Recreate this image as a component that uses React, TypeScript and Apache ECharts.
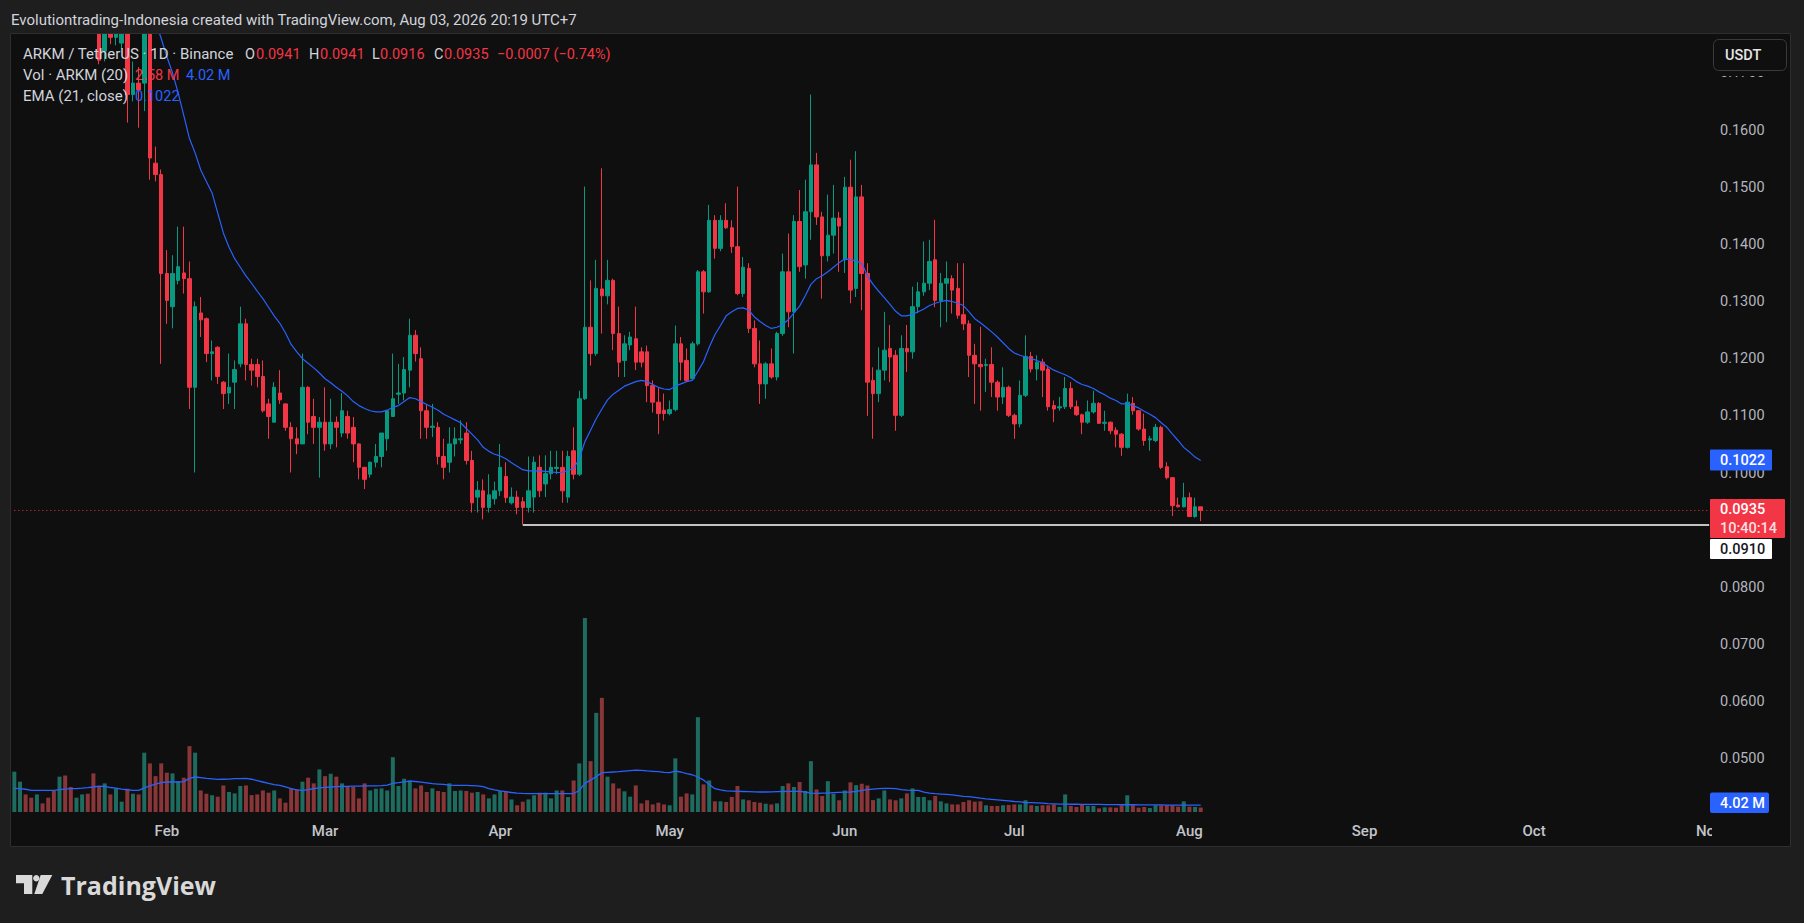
import React, { useEffect, useRef } from "react";
import * as echarts from "echarts";

// ---------- axis: one category per day, Jan 5 2026 .. Nov 1 2026 ----------
const START_UTC = Date.UTC(2026, 0, 5);
const TOTAL_DAYS = 301;
const MONTHS = ["Jan", "Feb", "Mar", "Apr", "May", "Jun", "Jul", "Aug", "Sep", "Oct", "Nov", "Dec"];
const categories: string[] = Array.from({ length: TOTAL_DAYS }, (_, k) =>
  new Date(START_UTC + k * 86400000).toISOString().slice(0, 10)
);

// ---------- price data (ARKM/USDT daily) ----------
const openP = [
  0.205, 0.209, 0.213, 0.206, 0.202, 0.205, 0.201, 0.198, 0.192, 0.200,
  0.193, 0.188, 0.192, 0.196, 0.191, 0.183, 0.1738, 0.1805, 0.1762, 0.1752,
  0.1802, 0.1662, 0.1682, 0.1682, 0.1812, 0.1542, 0.1522, 0.1349, 0.1291, 0.1337,
  0.1350, 0.1340, 0.1150, 0.1280, 0.1270, 0.1209, 0.1220, 0.1159, 0.1140, 0.1159,
  0.1191, 0.1261, 0.1190, 0.1190, 0.1169, 0.1121, 0.1089, 0.1140, 0.1121, 0.1080,
  0.1060, 0.1051, 0.1150, 0.1099, 0.1080, 0.1089, 0.1051, 0.1089, 0.1070, 0.1099,
  0.1080, 0.1051, 0.1010, 0.0998, 0.1019, 0.1029, 0.1060, 0.1099, 0.1138, 0.1140,
  0.1180, 0.1241, 0.1200, 0.1109, 0.1080, 0.1080, 0.1029, 0.1019, 0.1051, 0.1058,
  0.1070, 0.1022, 0.0958, 0.0969, 0.0940, 0.0955, 0.0969, 0.0994, 0.0948, 0.0958,
  0.0950, 0.0940, 0.0958, 0.1010, 0.0981, 0.0999, 0.1008, 0.1010, 0.0958, 0.1039,
  0.0998, 0.1130, 0.1255, 0.1209, 0.1322, 0.1310, 0.1337, 0.1244, 0.1197, 0.1224,
  0.1235, 0.1212, 0.1212, 0.1153, 0.1124, 0.1110, 0.1104, 0.1111, 0.1226, 0.1197,
  0.1165, 0.1226, 0.1352, 0.1317, 0.1442, 0.1393, 0.1442, 0.1429, 0.1396, 0.1314,
  0.1358, 0.1253, 0.1191, 0.1156, 0.1191, 0.1168, 0.1244, 0.1352, 0.1282, 0.1440,
  0.1364, 0.1457, 0.1539, 0.1448, 0.1380, 0.1416, 0.1446, 0.1373, 0.1500, 0.1323,
  0.1483, 0.1349, 0.1162, 0.1139, 0.1180, 0.1218, 0.1206, 0.1101, 0.1218, 0.1212,
  0.1291, 0.1317, 0.1332, 0.1373, 0.1302, 0.1332, 0.1340, 0.1323, 0.1277, 0.1261,
  0.1206, 0.1190, 0.1188, 0.1190, 0.1159, 0.1133, 0.1150, 0.1101, 0.1086, 0.1136,
  0.1204, 0.1182, 0.1194, 0.1182, 0.1118, 0.1114, 0.1116, 0.1148, 0.1116, 0.1102,
  0.1089, 0.1107, 0.1122, 0.1087, 0.1089, 0.1075, 0.1068, 0.1045, 0.1122, 0.1109,
  0.1077, 0.1058, 0.1057, 0.1080, 0.1011, 0.0992, 0.0944, 0.0941, 0.0957, 0.0924,
  0.0941,
];
const highP = [
  0.212, 0.216, 0.215, 0.209, 0.208, 0.207, 0.204, 0.200, 0.203, 0.202,
  0.196, 0.194, 0.198, 0.197, 0.193, 0.186, 0.1830, 0.1840, 0.1815, 0.1835,
  0.1850, 0.1720, 0.1710, 0.1850, 0.1840, 0.1571, 0.1531, 0.1390, 0.1381, 0.1431,
  0.1431, 0.1370, 0.1300, 0.1308, 0.1272, 0.1232, 0.1222, 0.1161, 0.1209, 0.1197,
  0.1291, 0.1270, 0.1200, 0.1200, 0.1197, 0.1130, 0.1159, 0.1180, 0.1122, 0.1089,
  0.1080, 0.1209, 0.1152, 0.1130, 0.1098, 0.1150, 0.1130, 0.1099, 0.1140, 0.1109,
  0.1098, 0.1052, 0.1011, 0.1020, 0.1051, 0.1070, 0.1109, 0.1209, 0.1191, 0.1203,
  0.1270, 0.1250, 0.1220, 0.1121, 0.1121, 0.1089, 0.1060, 0.1080, 0.1080, 0.1092,
  0.1089, 0.1039, 0.0986, 0.0989, 0.0998, 0.0985, 0.1051, 0.1019, 0.0975, 0.0969,
  0.0958, 0.1029, 0.1029, 0.1031, 0.1031, 0.1039, 0.1039, 0.1039, 0.1039, 0.1080,
  0.1144, 0.1501, 0.1337, 0.1373, 0.1533, 0.1373, 0.1340, 0.1291, 0.1241, 0.1247,
  0.1291, 0.1220, 0.1223, 0.1162, 0.1150, 0.1139, 0.1127, 0.1258, 0.1238, 0.1218,
  0.1230, 0.1355, 0.1355, 0.1469, 0.1451, 0.1451, 0.1472, 0.1442, 0.1501, 0.1378,
  0.1367, 0.1267, 0.1232, 0.1194, 0.1218, 0.1247, 0.1384, 0.1419, 0.1451, 0.1495,
  0.1513, 0.1662, 0.1560, 0.1457, 0.1487, 0.1504, 0.1457, 0.1518, 0.1548, 0.1563,
  0.1504, 0.1367, 0.1185, 0.1220, 0.1282, 0.1259, 0.1215, 0.1241, 0.1259, 0.1326,
  0.1334, 0.1405, 0.1408, 0.1443, 0.1350, 0.1370, 0.1346, 0.1367, 0.1367, 0.1267,
  0.1226, 0.1256, 0.1200, 0.1220, 0.1162, 0.1185, 0.1153, 0.1104, 0.1162, 0.1241,
  0.1212, 0.1206, 0.1200, 0.1188, 0.1127, 0.1133, 0.1168, 0.1159, 0.1127, 0.1104,
  0.1127, 0.1144, 0.1124, 0.1109, 0.1090, 0.1080, 0.1070, 0.1139, 0.1133, 0.1110,
  0.1104, 0.1065, 0.1086, 0.1083, 0.1019, 0.0993, 0.0957, 0.0983, 0.0966, 0.0957,
  0.0941,
];
const lowP = [
  0.199, 0.204, 0.203, 0.200, 0.199, 0.200, 0.196, 0.190, 0.190, 0.191,
  0.186, 0.186, 0.190, 0.189, 0.181, 0.1715, 0.1720, 0.1750, 0.1748, 0.1741,
  0.1613, 0.1650, 0.1604, 0.1633, 0.1513, 0.1510, 0.1191, 0.1261, 0.1253, 0.1330,
  0.1314, 0.1112, 0.1001, 0.1238, 0.1194, 0.1162, 0.1156, 0.1112, 0.1121, 0.1112,
  0.1185, 0.1162, 0.1153, 0.1150, 0.1106, 0.1060, 0.1089, 0.1121, 0.1074, 0.1001,
  0.1033, 0.1051, 0.1068, 0.1051, 0.0992, 0.1039, 0.1042, 0.1045, 0.1063, 0.1060,
  0.1019, 0.0989, 0.0972, 0.0992, 0.1010, 0.1010, 0.1039, 0.1098, 0.1121, 0.1127,
  0.1150, 0.1195, 0.1060, 0.1060, 0.1063, 0.1015, 0.0989, 0.1001, 0.1029, 0.1051,
  0.1015, 0.0931, 0.0931, 0.0919, 0.0931, 0.0945, 0.0960, 0.0948, 0.0945, 0.0928,
  0.0910, 0.0931, 0.0931, 0.0958, 0.0958, 0.0989, 0.0998, 0.0948, 0.0948, 0.0989,
  0.0995, 0.1128, 0.1188, 0.1205, 0.1244, 0.1295, 0.1215, 0.1168, 0.1168, 0.1215,
  0.1180, 0.1185, 0.1124, 0.1106, 0.1068, 0.1092, 0.1101, 0.1108, 0.1162, 0.1159,
  0.1162, 0.1223, 0.1279, 0.1315, 0.1375, 0.1388, 0.1427, 0.1385, 0.1311, 0.1308,
  0.1245, 0.1185, 0.1121, 0.1130, 0.1165, 0.1162, 0.1240, 0.1255, 0.1209, 0.1352,
  0.1340, 0.1408, 0.1434, 0.1305, 0.1370, 0.1384, 0.1352, 0.1350, 0.1297, 0.1308,
  0.1285, 0.1100, 0.1060, 0.1124, 0.1162, 0.1159, 0.1074, 0.1098, 0.1177, 0.1200,
  0.1280, 0.1310, 0.1320, 0.1290, 0.1255, 0.1264, 0.1279, 0.1270, 0.1250, 0.1168,
  0.1121, 0.1109, 0.1142, 0.1133, 0.1109, 0.1121, 0.1098, 0.1060, 0.1080, 0.1133,
  0.1176, 0.1162, 0.1133, 0.1109, 0.1089, 0.1109, 0.1112, 0.1112, 0.1100, 0.1068,
  0.1086, 0.1104, 0.1086, 0.1074, 0.1068, 0.1045, 0.1030, 0.1043, 0.1102, 0.1074,
  0.1048, 0.1039, 0.1054, 0.1007, 0.0989, 0.0925, 0.0940, 0.0940, 0.0923, 0.0922,
  0.0916,
];
const closeP = [
  0.209, 0.213, 0.206, 0.202, 0.205, 0.201, 0.198, 0.192, 0.200, 0.193,
  0.188, 0.192, 0.196, 0.191, 0.183, 0.1722, 0.1805, 0.1762, 0.1795, 0.1802,
  0.1662, 0.1682, 0.1670, 0.1812, 0.1551, 0.1522, 0.1349, 0.1302, 0.1349, 0.1361,
  0.1340, 0.1150, 0.1291, 0.1268, 0.1209, 0.1212, 0.1169, 0.1139, 0.1150, 0.1181,
  0.1261, 0.1190, 0.1180, 0.1169, 0.1109, 0.1099, 0.1150, 0.1128, 0.1080, 0.1060,
  0.1051, 0.1150, 0.1089, 0.1080, 0.1089, 0.1051, 0.1089, 0.1080, 0.1109, 0.1070,
  0.1051, 0.1010, 0.0989, 0.1019, 0.1029, 0.1070, 0.1109, 0.1130, 0.1140, 0.1181,
  0.1241, 0.1209, 0.1109, 0.1080, 0.1082, 0.1029, 0.1010, 0.1051, 0.1060, 0.1060,
  0.1022, 0.0948, 0.0970, 0.0940, 0.0962, 0.0969, 0.1010, 0.0957, 0.0958, 0.0940,
  0.0940, 0.0969, 0.1019, 0.0969, 0.0999, 0.1010, 0.1010, 0.0969, 0.1029, 0.0998,
  0.1130, 0.1255, 0.1209, 0.1323, 0.1310, 0.1337, 0.1244, 0.1194, 0.1226, 0.1238,
  0.1194, 0.1194, 0.1153, 0.1124, 0.1104, 0.1104, 0.1111, 0.1226, 0.1194, 0.1162,
  0.1226, 0.1352, 0.1317, 0.1442, 0.1393, 0.1442, 0.1429, 0.1396, 0.1314, 0.1360,
  0.1253, 0.1191, 0.1156, 0.1191, 0.1168, 0.1244, 0.1352, 0.1282, 0.1440, 0.1361,
  0.1457, 0.1539, 0.1448, 0.1380, 0.1416, 0.1446, 0.1432, 0.1500, 0.1320, 0.1483,
  0.1349, 0.1159, 0.1139, 0.1180, 0.1215, 0.1203, 0.1101, 0.1218, 0.1212, 0.1291,
  0.1317, 0.1332, 0.1370, 0.1302, 0.1332, 0.1340, 0.1320, 0.1276, 0.1261, 0.1206,
  0.1191, 0.1186, 0.1190, 0.1159, 0.1133, 0.1150, 0.1101, 0.1086, 0.1136, 0.1204,
  0.1182, 0.1194, 0.1180, 0.1116, 0.1112, 0.1116, 0.1148, 0.1116, 0.1102, 0.1089,
  0.1107, 0.1122, 0.1087, 0.1089, 0.1074, 0.1068, 0.1045, 0.1124, 0.1109, 0.1077,
  0.1057, 0.1060, 0.1080, 0.1010, 0.0992, 0.0943, 0.0941, 0.0957, 0.0924, 0.0941,
  0.0935,
];

// EMA(21, close) as drawn on the picture
const emaLine = [
  0.2010, 0.2006, 0.2003, 0.1999, 0.1996, 0.1992, 0.1988, 0.1982, 0.1978, 0.1973,
  0.1967, 0.1962, 0.1958, 0.1953, 0.1946, 0.1937, 0.1929, 0.1919, 0.1911, 0.1903,
  0.1890, 0.1878, 0.1862, 0.1853, 0.1818, 0.1790, 0.1760, 0.1728, 0.1700, 0.1665,
  0.1625, 0.1585, 0.1560, 0.1530, 0.1510, 0.1490, 0.1455, 0.1420, 0.1395, 0.1375,
  0.1360, 0.1345, 0.1332, 0.1318, 0.1305, 0.1290, 0.1275, 0.1262, 0.1245, 0.1225,
  0.1212, 0.1200, 0.1192, 0.1184, 0.1175, 0.1165, 0.1158, 0.1150, 0.1143, 0.1135,
  0.1125, 0.1118, 0.1113, 0.1109, 0.1107, 0.1107, 0.1110, 0.1115, 0.1118, 0.1125,
  0.1132, 0.1130, 0.1125, 0.1120, 0.1115, 0.1110, 0.1103, 0.1098, 0.1093, 0.1088,
  0.1078, 0.1068, 0.1058, 0.1045, 0.1038, 0.1033, 0.1030, 0.1025, 0.1018, 0.1012,
  0.1006, 0.1004, 0.1004, 0.1004, 0.1003, 0.1002, 0.1001, 0.1001, 0.1005, 0.1008,
  0.1025, 0.1055, 0.1075, 0.1095, 0.1112, 0.1128, 0.1138, 0.1145, 0.1152, 0.1156,
  0.1160, 0.1162, 0.1160, 0.1155, 0.1150, 0.1147, 0.1146, 0.1152, 0.1156, 0.1160,
  0.1162, 0.1178, 0.1195, 0.1220, 0.1242, 0.1258, 0.1275, 0.1282, 0.1288, 0.1289,
  0.1285, 0.1273, 0.1265, 0.1258, 0.1253, 0.1255, 0.1260, 0.1268, 0.1280, 0.1292,
  0.1310, 0.1330, 0.1340, 0.1345, 0.1352, 0.1360, 0.1368, 0.1375, 0.1373, 0.1371,
  0.1367, 0.1345, 0.1330, 0.1318, 0.1307, 0.1295, 0.1283, 0.1275, 0.1275, 0.1278,
  0.1282, 0.1287, 0.1293, 0.1297, 0.1300, 0.1302, 0.1300, 0.1297, 0.1293, 0.1282,
  0.1270, 0.1263, 0.1255, 0.1247, 0.1238, 0.1228, 0.1218, 0.1210, 0.1206, 0.1203,
  0.1200, 0.1197, 0.1193, 0.1186, 0.1180, 0.1176, 0.1172, 0.1167, 0.1160, 0.1155,
  0.1152, 0.1148, 0.1142, 0.1137, 0.1131, 0.1127, 0.1121, 0.1121, 0.1118, 0.1114,
  0.1108, 0.1103, 0.1097, 0.1088, 0.1080, 0.1068, 0.1057, 0.1045, 0.1037, 0.1028,
  0.1022,
];

// Volume in millions of ARKM
const volumeM = [
  23.4, 17.6, 10.2, 8.3, 10.2, 5.0, 8.3, 12.2, 20.5, 21.2,
  14.5, 8.3, 10.2, 10.6, 22.4, 14.5, 16.6, 10.2, 13.7, 6.0,
  13.5, 10.6, 10.2, 34.4, 28.2, 20.8, 28.2, 22.8, 22.4, 17.9,
  19.9, 38.2, 34.4, 12.5, 10.6, 9.7, 8.9, 15.4, 11.6, 10.8,
  15.1, 15.4, 9.8, 10.2, 12.5, 11.2, 12.5, 7.9, 5.4, 13.7,
  13.1, 17.6, 19.9, 16.6, 24.7, 20.8, 22.2, 20.5, 16.6, 14.5,
  14.5, 7.9, 16.6, 12.5, 13.5, 13.7, 12.5, 31.8, 15.1, 19.3,
  18.3, 13.7, 15.4, 11.6, 13.7, 12.2, 11.6, 16.6, 12.2, 12.5,
  12.2, 11.2, 11.6, 10.2, 7.9, 10.2, 12.2, 12.2, 7.3, 3.9,
  6.0, 7.3, 9.7, 11.2, 11.2, 7.9, 12.5, 12.5, 8.7, 18.3,
  28.2, 112.5, 29.5, 57.5, 66.2, 20.5, 16.6, 13.7, 12.0, 8.9,
  15.4, 5.0, 6.8, 4.4, 5.4, 4.4, 3.9, 31.1, 8.9, 10.8,
  10.2, 55.0, 16.0, 18.3, 6.2, 6.2, 5.8, 8.7, 15.1, 7.3,
  6.8, 5.8, 5.4, 4.8, 4.4, 5.0, 15.1, 16.6, 14.5, 17.4,
  12.2, 29.5, 13.1, 9.3, 17.9, 10.6, 6.8, 12.5, 17.2, 15.6,
  16.4, 15.4, 6.9, 7.9, 12.5, 7.3, 6.8, 7.9, 10.8, 13.7,
  8.7, 8.7, 6.8, 9.3, 6.2, 5.0, 4.4, 4.4, 5.8, 6.8,
  6.0, 6.2, 3.9, 3.5, 3.5, 3.9, 4.1, 4.4, 4.4, 6.8,
  3.9, 3.5, 3.9, 3.9, 4.4, 2.9, 10.2, 3.5, 2.9, 4.1,
  3.5, 3.5, 2.1, 2.7, 2.7, 2.5, 3.9, 9.7, 3.9, 2.5,
  2.9, 2.3, 3.9, 3.9, 3.9, 3.9, 3.1, 6.2, 3.1, 2.9,
  2.58,
];

// Volume moving average (20), millions
const volMa = [
  13.7, 13.5, 13.2, 12.6, 12.5, 12.5, 12.5, 12.6, 13.0, 13.3,
  13.5, 13.6, 13.8, 14.1, 14.5, 15.0, 14.8, 14.2, 13.8, 13.3,
  12.9, 12.6, 12.5, 14.0, 15.2, 16.2, 17.0, 17.4, 17.5, 17.4,
  17.6, 19.5, 20.3, 19.9, 19.5, 19.2, 18.9, 19.0, 19.1, 19.3,
  19.4, 19.5, 19.0, 18.2, 17.4, 16.6, 15.9, 15.4, 14.6, 13.6,
  12.8, 12.5, 12.9, 13.5, 14.0, 14.3, 14.5, 14.7, 14.8, 14.9,
  15.0, 15.0, 15.1, 15.1, 15.2, 15.3, 15.6, 16.6, 17.0, 17.5,
  17.9, 17.7, 17.3, 16.9, 16.4, 16.2, 16.0, 15.6, 15.5, 15.5,
  15.4, 15.3, 15.1, 14.7, 13.6, 12.8, 12.2, 11.8, 11.3, 11.0,
  10.8, 10.7, 10.6, 10.6, 10.6, 10.6, 10.6, 10.6, 10.6, 10.7,
  12.5, 16.6, 18.5, 20.5, 22.8, 23.0, 23.2, 23.4, 23.7, 24.0,
  24.3, 24.1, 23.8, 23.6, 23.4, 23.0, 22.8, 23.7, 23.2, 22.2,
  21.6, 20.3, 18.5, 16.0, 13.5, 12.8, 12.2, 12.1, 12.0, 11.9,
  11.8, 11.7, 11.6, 11.6, 11.7, 11.8, 11.9, 12.0, 12.0, 12.0,
  11.6, 11.0, 10.8, 10.9, 11.0, 11.2, 11.4, 11.5, 11.6, 12.0,
  12.6, 13.0, 13.3, 13.6, 13.7, 13.7, 13.5, 13.0, 12.7, 12.5,
  12.5, 11.5, 11.0, 10.6, 10.4, 10.2, 9.9, 9.5, 9.1, 8.9,
  8.5, 8.0, 7.6, 7.3, 7.0, 6.7, 6.4, 6.1, 5.9, 5.5,
  5.4, 5.3, 5.1, 4.8, 4.7, 4.6, 4.6, 4.5, 4.5, 4.4,
  4.4, 4.4, 4.4, 4.3, 4.3, 4.3, 4.2, 4.2, 4.2, 4.1,
  4.1, 4.1, 4.1, 4.1, 4.0, 4.0, 4.0, 4.0, 4.0, 4.0,
  4.02,
];

const LAST_PRICE = 0.0935;
const SUPPORT_PRICE = 0.091;
const SUPPORT_START_INDEX = 90;

// ---------- styling ----------
const UP = "#089981";
const DOWN = "#f23645";
const VOL_UP = "#1e6b60";
const VOL_DOWN = "#883638";
const BLUE = "#2962ff";
const OUTER_BG = "#1e1e1e";
const PANEL_BG = "#0f0f0f";
const TEXT = "#d1d4dc";
const AXIS_TEXT = "#b2b5be";
const FONT = "Roboto, 'Noto Sans', sans-serif";

function txt(text: string, x: number, y: number, fill: string, size = 14.5, weight: any = "normal", family = FONT, z = 120) {
  return {
    type: "text",
    z,
    silent: true,
    style: {
      text,
      x,
      y,
      fill,
      fontSize: size,
      fontWeight: weight,
      fontFamily: family,
      textAlign: "left",
      textVerticalAlign: "middle",
      align: "left",
      verticalAlign: "middle",
    },
  };
}
function box(x: number, y: number, w: number, h: number, fill: string, z = 110, r = 0, stroke?: string) {
  return {
    type: "rect",
    z,
    silent: true,
    shape: { x, y, width: w, height: h, r },
    style: stroke ? { fill, stroke, lineWidth: 1 } : { fill },
  };
}

export default function App() {
  const ref = useRef<HTMLDivElement>(null);

  useEffect(() => {
    if (!ref.current) return;
    const chart = echarts.init(ref.current, null, { renderer: "svg" });

    const candleData = openP.map((o, i) => [o, closeP[i], lowP[i], highP[i]]);
    const volData = volumeM.map((v, i) => ({
      value: v,
      itemStyle: { color: closeP[i] >= openP[i] ? VOL_UP : VOL_DOWN },
    }));

    const graphic: any[] = [
      // outer frame (covers anything drawn outside the panel)
      box(0, 0, 1804, 33, OUTER_BG, 100),
      box(0, 847, 1804, 76, OUTER_BG, 100),
      box(0, 0, 10, 923, OUTER_BG, 100),
      box(1791, 0, 13, 923, OUTER_BG, 100),
      {
        type: "rect",
        z: 101,
        silent: true,
        shape: { x: 10.5, y: 33.5, width: 1780, height: 813 },
        style: { fill: "none", stroke: "#2e2e2e", lineWidth: 1 },
      },
      // cover the right part of the last month label (it runs under the price scale)
      box(1712, 818, 78, 28, PANEL_BG, 100),
      // header
      txt("Evolutiontrading-Indonesia created with TradingView.com, Aug 03, 2026 20:19 UTC+7", 11, 20, TEXT, 15),
      // legend
      txt("ARKM / TetherUS · 1D · Binance", 23, 54, TEXT, 15),
      txt("O", 245, 54, TEXT),
      txt("0.0941", 256, 54, DOWN),
      txt("H", 309, 54, TEXT),
      txt("0.0941", 320, 54, DOWN),
      txt("L", 372, 54, TEXT),
      txt("0.0916", 380, 54, DOWN),
      txt("C", 434, 54, TEXT),
      txt("0.0935", 444, 54, DOWN),
      txt("\u22120.0007 (\u22120.74%)", 497, 54, DOWN),
      txt("Vol · ARKM (20)", 23, 75, TEXT, 15),
      txt("2.58 M", 135, 75, DOWN),
      txt("4.02 M", 186, 75, BLUE),
      txt("EMA (21, close)", 23, 96, TEXT, 15),
      txt("0.1022", 135, 96, BLUE),
      // currency button (with its clear margin over the scale)
      box(1712, 36, 78, 40, PANEL_BG, 108),
      box(1713.5, 39.5, 73, 31, PANEL_BG, 110, 5, "#3a3a3a"),
      txt("USDT", 1725, 55, "#e6e6e6", 14.5, 500),
      // price scale badges
      box(1710, 449.5, 62, 21, BLUE, 110, 1),
      txt("0.1022", 1720, 460.5, "#ffffff", 14.5, 500),
      box(1710, 499, 75, 39, DOWN, 110, 1),
      txt("0.0935", 1720, 509.5, "#ffffff", 14.5, 500),
      txt("10:40:14", 1720, 528, "rgba(255,255,255,0.85)", 14.5, 500),
      box(1710, 539, 62, 20, "#ffffff", 110, 1),
      txt("0.0910", 1720, 549, "#131722", 14.5, 500),
      box(1710, 792.5, 59, 20.5, BLUE, 110, 2),
      txt("4.02 M", 1720, 803, "#ffffff", 14.5, 500),
      // TradingView logo
      {
        type: "polygon",
        z: 120,
        silent: true,
        shape: { points: [[16, 875], [32.3, 875], [32.3, 894], [24, 894], [24, 883.3], [16, 883.3]] },
        style: { fill: "#d9d9d9" },
      },
      { type: "circle", z: 120, silent: true, shape: { cx: 36.3, cy: 878.2, r: 3.2 }, style: { fill: "#d9d9d9" } },
      {
        type: "polygon",
        z: 120,
        silent: true,
        shape: { points: [[40.7, 875], [52.3, 875], [42.3, 894], [34.3, 894]] },
        style: { fill: "#d9d9d9" },
      },
      txt("TradingView", 61, 885, "#d9d9d9", 25, "bold", "'Open Sans', Roboto, sans-serif"),
    ];

    const option: any = {
      animation: false,
      backgroundColor: PANEL_BG,
      grid: [
        { left: 11.5, right: 92, top: 15.64, bottom: 106.84, containLabel: false },
        { left: 11.5, right: 92, top: 232, bottom: 111, containLabel: false },
      ],
      xAxis: [
        {
          type: "category",
          gridIndex: 0,
          data: categories,
          boundaryGap: true,
          axisLine: { show: false },
          axisTick: { show: false },
          splitLine: { show: false },
          axisLabel: {
            interval: (_idx: number, val: string) => val.slice(8, 10) === "01",
            formatter: (val: string) => MONTHS[Number(val.slice(5, 7)) - 1],
            color: "#c3c5cb",
            fontSize: 15,
            fontWeight: 500,
            fontFamily: FONT,
            margin: 7,
          },
        },
        {
          type: "category",
          gridIndex: 1,
          data: categories,
          boundaryGap: true,
          show: false,
        },
      ],
      yAxis: [
        {
          type: "value",
          gridIndex: 0,
          position: "right",
          min: 0.04,
          max: 0.18,
          interval: 0.01,
          axisLine: { show: false },
          axisTick: { show: false },
          splitLine: { show: false },
          axisLabel: {
            color: AXIS_TEXT,
            fontSize: 14.5,
            fontFamily: FONT,
            margin: 8,
            showMinLabel: false,
            showMaxLabel: false,
            // the 0.0900 tick sits fully under the price badges in the reference
            formatter: (v: number) => (Math.abs(v - 0.09) < 1e-9 ? "" : v.toFixed(4)),
          },
        },
        {
          type: "value",
          gridIndex: 1,
          min: 0,
          max: 336.4,
          show: false,
          splitLine: { show: false },
        },
      ],
      series: [
        {
          name: "Volume",
          type: "bar",
          xAxisIndex: 1,
          yAxisIndex: 1,
          data: volData,
          barWidth: 4,
          z: 1,
          silent: true,
        },
        {
          name: "Vol MA",
          type: "line",
          xAxisIndex: 1,
          yAxisIndex: 1,
          data: volMa,
          showSymbol: false,
          symbol: "none",
          lineStyle: { color: BLUE, width: 1.3 },
          z: 2,
          silent: true,
        },
        {
          name: "ARKM",
          type: "candlestick",
          xAxisIndex: 0,
          yAxisIndex: 0,
          data: candleData,
          barWidth: 4,
          clip: true,
          z: 3,
          silent: true,
          itemStyle: {
            color: UP,
            color0: DOWN,
            borderColor: UP,
            borderColor0: DOWN,
            borderWidth: 1,
          },
          markLine: {
            silent: true,
            symbol: ["none", "none"],
            label: { show: false },
            data: [
              [
                { coord: [0, LAST_PRICE], lineStyle: { color: DOWN, type: [1, 3], width: 1 } },
                { coord: [TOTAL_DAYS - 1, LAST_PRICE] },
              ],
              [
                { coord: [SUPPORT_START_INDEX, SUPPORT_PRICE], lineStyle: { color: "#ffffff", type: "solid", width: 1.5 } },
                { coord: [TOTAL_DAYS - 1, SUPPORT_PRICE] },
              ],
            ],
          },
        },
        {
          name: "EMA 21",
          type: "line",
          xAxisIndex: 0,
          yAxisIndex: 0,
          data: emaLine,
          showSymbol: false,
          symbol: "none",
          clip: true,
          lineStyle: { color: BLUE, width: 1.2 },
          z: 4,
          silent: true,
        },
      ],
      graphic,
    };

    chart.setOption(option);
    return () => chart.dispose();
  }, []);

  return (
    <div
      ref={ref}
      style={{ position: "fixed", left: 0, top: 0, width: 1804, height: 923, background: PANEL_BG }}
    />
  );
}
